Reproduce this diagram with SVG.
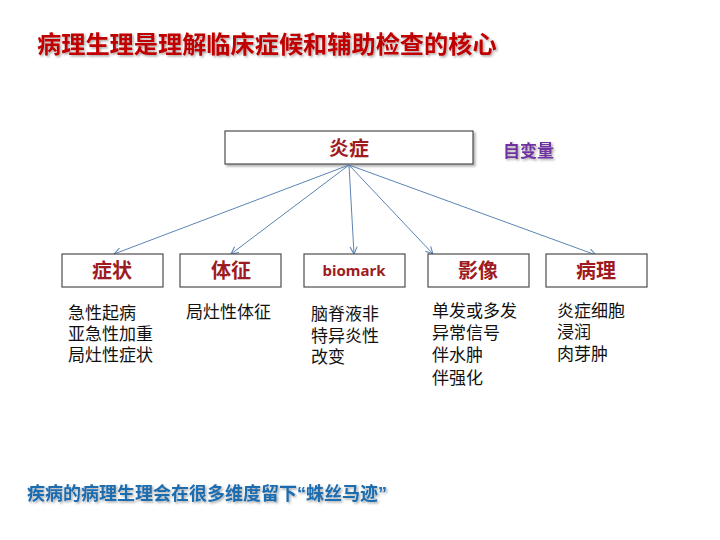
<svg xmlns="http://www.w3.org/2000/svg" width="720" height="540" viewBox="0 0 720 540">
<defs>
<marker id="arr" viewBox="0 0 10 10" refX="9" refY="5" markerWidth="9" markerHeight="9" markerUnits="userSpaceOnUse" orient="auto">
<path d="M1,1 L9,5 L1,9" fill="none" stroke="#5b84b4" stroke-width="1.2"/>
</marker>
<filter id="sh" x="-5%" y="-20%" width="110%" height="150%">
<feDropShadow dx="1.5" dy="1.5" stdDeviation="1" flood-color="#000" flood-opacity="0.35"/>
</filter>
<filter id="bsh" x="-5%" y="-20%" width="115%" height="160%">
<feDropShadow dx="2" dy="2" stdDeviation="1" flood-color="#000" flood-opacity="0.3"/>
</filter>
</defs>
<style>
text{font-family:"Noto Sans CJK SC","Noto Sans",sans-serif}
.box{fill:#fff;stroke:#4d4d4d;stroke-width:1.2}
.lbl{fill:#9e1b22;font-size:20px;font-weight:bold;text-anchor:middle}
.bio{font-family:"Noto Sans","Noto Sans CJK SC",sans-serif;font-size:15px}
.lst{fill:#111;font-size:17px}
.con{stroke:#5b84b4;stroke-width:1;fill:none;marker-end:url(#arr)}
.q{font-family:"Liberation Sans",sans-serif}
</style>
<rect width="720" height="540" fill="#fff"/>
<text x="37" y="53" font-size="24.2" font-weight="bold" fill="#c00000" filter="url(#sh)">病理生理是理解临床症候和辅助检查的核心</text>
<g id="root">
<rect class="box" x="225" y="131" width="248" height="33" filter="url(#bsh)"/>
<text class="lbl" x="349" y="156">炎症</text>
</g>
<text x="503" y="157" font-size="17" font-weight="bold" fill="#7030a0" filter="url(#sh)">自变量</text>
<g id="connectors">
<line class="con" x1="349" y1="165" x2="114" y2="254"/>
<line class="con" x1="349" y1="165" x2="231" y2="254"/>
<line class="con" x1="349" y1="165" x2="354" y2="254"/>
<line class="con" x1="349" y1="165" x2="433" y2="254"/>
<line class="con" x1="349" y1="165" x2="596" y2="255"/>
</g>
<g id="n1">
<rect class="box" x="62" y="254" width="101" height="33"/>
<text class="lbl" x="112" y="278">症状</text>
<text class="lst" x="68" y="319">急性起病</text>
<text class="lst" x="68" y="340">亚急性加重</text>
<text class="lst" x="68" y="361">局灶性症状</text>
</g>
<g id="n2">
<rect class="box" x="180" y="254" width="101" height="33"/>
<text class="lbl" x="231" y="278">体征</text>
<text class="lst" x="186" y="318">局灶性体征</text>
</g>
<g id="n3">
<rect class="box" x="304" y="254" width="101" height="33"/>
<text class="lbl bio" x="354" y="276">biomark</text>
<text class="lst" x="311" y="320">脑脊液非</text>
<text class="lst" x="311" y="342">特异炎性</text>
<text class="lst" x="311" y="363">改变</text>
</g>
<g id="n4">
<rect class="box" x="428" y="254" width="101" height="33"/>
<text class="lbl" x="478" y="278">影像</text>
<text class="lst" x="432" y="317">单发或多发</text>
<text class="lst" x="432" y="339">异常信号</text>
<text class="lst" x="432" y="361">伴水肿</text>
<text class="lst" x="432" y="384">伴强化</text>
</g>
<g id="n5">
<rect class="box" x="546" y="254" width="101" height="33"/>
<text class="lbl" x="596" y="278">病理</text>
<text class="lst" x="557" y="317">炎症细胞</text>
<text class="lst" x="557" y="338">浸润</text>
<text class="lst" x="557" y="360">肉芽肿</text>
</g>
<text x="27" y="500" font-size="18" font-weight="bold" fill="#1f6cb0" filter="url(#sh)">疾病的病理生理会在很多维度留下<tspan class="q">“</tspan>蛛丝马迹<tspan class="q">”</tspan></text>
</svg>
